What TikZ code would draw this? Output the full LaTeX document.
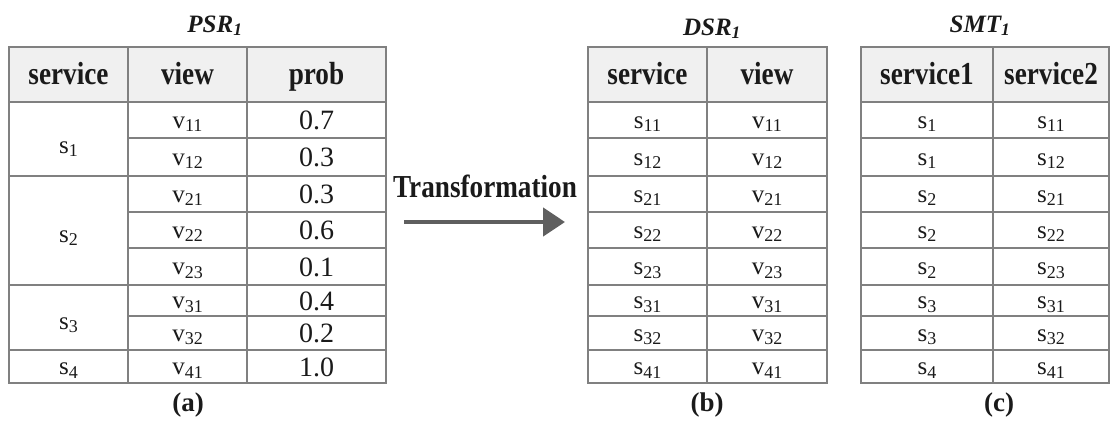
\documentclass[tikz,border=0pt]{standalone}
\usepackage{fontspec}
\setmainfont{Liberation Serif}
\newfontfamily\condbf[FakeStretch=0.85]{Liberation Serif Bold}
\usetikzlibrary{arrows.meta}
\newcommand\sbx[1]{\raisebox{-0.14em}{\fontsize{18}{18}\selectfont #1}}
\definecolor{gridc}{HTML}{808080}
\definecolor{headc}{HTML}{F0F0F0}
\definecolor{arrc}{HTML}{5F5F5F}
\definecolor{txtc}{HTML}{1A1A1A}
\tikzset{
  gridline/.style={draw=gridc, line width=1.2pt},
  headtxt/.style={font=\fontsize{32}{32}\condbf, inner sep=0, anchor=base, text=txtc},
  celltxt/.style={font=\fontsize{25}{25}\selectfont, inner sep=0, anchor=base, text=txtc},
  numtxt/.style={font=\fontsize{28}{28}\selectfont, inner sep=0, anchor=base, text=txtc},
  titletxt/.style={font=\fontsize{25}{25}\selectfont\bfseries\itshape, inner sep=0, anchor=base, text=txtc},
  captxt/.style={font=\fontsize{27}{27}\selectfont\bfseries, inner sep=0, anchor=base, text=txtc},
  bigarrow/.style={draw=arrc, line width=4.5pt, -{Triangle[length=22pt,width=28pt]}},
}
\begin{document}
\begin{tikzpicture}[x=1pt,y=-1pt]
\useasboundingbox (0,0) rectangle (1110,423);

% ---------- header fills ----------
\fill[headc] (9,47) rectangle (386,102);
\fill[headc] (588,47) rectangle (827,102);
\fill[headc] (861,47) rectangle (1109,102);

% ---------- PSR grid ----------
\draw[gridline] (9,47) rectangle (386,383);
\draw[gridline] (128,47) -- (128,383);
\draw[gridline] (247,47) -- (247,383);
\foreach \yy in {102,176,285,350} \draw[gridline] (9,\yy) -- (386,\yy);
\foreach \yy in {138,212,248,316} \draw[gridline] (128,\yy) -- (386,\yy);

% ---------- DSR grid ----------
\draw[gridline] (588,47) rectangle (827,383);
\draw[gridline] (707,47) -- (707,383);
\foreach \yy in {102,138,176,212,248,285,316,350} \draw[gridline] (588,\yy) -- (827,\yy);

% ---------- SMT grid ----------
\draw[gridline] (861,47) rectangle (1109,383);
\draw[gridline] (993,47) -- (993,383);
\foreach \yy in {102,138,176,212,248,285,316,350} \draw[gridline] (861,\yy) -- (1109,\yy);

% ---------- titles ----------
\node[titletxt] (tPSR) at (215,32) {PSR\textsubscript{1}};
\node[titletxt] (tDSR) at (712,35) {DSR\textsubscript{1}};
\node[titletxt] (tSMT) at (980,32) {SMT\textsubscript{1}};

% ---------- headers ----------
\node[headtxt] (hP1) at (68.5,84) {service};
\node[headtxt] (hP2) at (187.5,84) {view};
\node[headtxt] (hP3) at (316.5,84) {prob};
\node[headtxt] (hD1) at (647.5,84) {service};
\node[headtxt] (hD2) at (767,84) {view};
\node[headtxt] (hS1) at (927,84) {service1};
\node[headtxt] (hS2) at (1051,84) {service2};

% ---------- PSR body ----------
\node[celltxt] (ps1) at (68.5,153) {s\sbx{1}};
\node[celltxt] (ps2) at (68.5,242) {s\sbx{2}};
\node[celltxt] (ps3) at (68.5,329) {s\sbx{3}};
\node[celltxt] (ps4) at (68.5,374.5) {s\sbx{4}};
\foreach \a/\p/\y/\yn [count=\i] in {11/0.7/128/129.5,12/0.3/165/166.5,21/0.3/202/203.5,22/0.6/238/239.5,23/0.1/274.5/276,31/0.4/308.5/310,32/0.2/341/342.5,41/1.0/374.5/376} {
  \node[celltxt] (pv\i) at (187.5,\y) {v\sbx{\a}};
  \node[numtxt] (pp\i) at (316.5,\yn) {\p};
}

% ---------- DSR body ----------
\foreach \a/\y [count=\i] in {11/128,12/165,21/202,22/238,23/274.5,31/308.5,32/341,41/374.5} {
  \node[celltxt] (ds\i) at (647.5,\y) {s\sbx{\a}};
  \node[celltxt] (dv\i) at (767,\y) {v\sbx{\a}};
}

% ---------- SMT body ----------
\foreach \a/\b/\y [count=\i] in {1/11/128,1/12/165,2/21/202,2/22/238,2/23/274.5,3/31/308.5,3/32/341,4/41/374.5} {
  \node[celltxt] (sa\i) at (927,\y) {s\sbx{\a}};
  \node[celltxt] (sb\i) at (1051,\y) {s\sbx{\b}};
}

% ---------- transformation arrow ----------
\node[headtxt] (trans) at (485,197) {Transformation};
\coordinate (arrS) at (404,222);
\coordinate (arrE) at (565,222);
\draw[bigarrow] (arrS) -- (arrE);

% ---------- captions ----------
\node[captxt] (capa) at (188,411) {(a)};
\node[captxt] (capb) at (707,411) {(b)};
\node[captxt] (capc) at (999,411) {(c)};
\end{tikzpicture}
\end{document}
